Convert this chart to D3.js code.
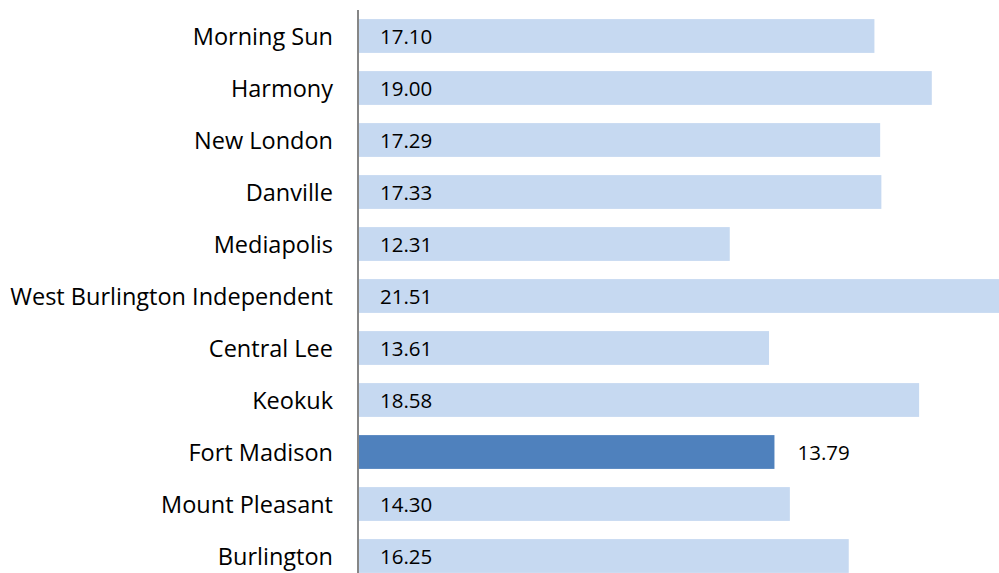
<!DOCTYPE html>
<html>
<head>
<meta charset="utf-8">
<script src="https://cdn.jsdelivr.net/npm/d3@7"></script>
<style>
  body { margin: 0; background: #fff; }
  svg { display: block; font-family: "Open Sans", sans-serif; }
</style>
</head>
<body>
<div id="wrapper"></div>
<script>
const districts = [
  "Morning Sun", "Harmony", "New London", "Danville", "Mediapolis",
  "West Burlington Independent", "Central Lee", "Keokuk", "Fort Madison",
  "Mount Pleasant", "Burlington"
];
const values = [17.10, 19.00, 17.29, 17.33, 12.31, 21.51, 13.61, 18.58, 13.79, 14.30, 16.25];
const highlighted = "Fort Madison";

const dataset = districts.map((name, i) => ({ name, value: values[i] }));

const dimensions = {
  width: 999,
  height: 573,
  margin: { top: 10, left: 358 },
};

const wrapper = d3.select("#wrapper")
  .append("svg")
  .attr("width", dimensions.width)
  .attr("height", dimensions.height);

const bounds = wrapper.append("g")
  .attr("transform", `translate(${dimensions.margin.left},${dimensions.margin.top})`);

// 30.2 px per unit, bars run past the right edge like the original
const xScale = d3.scaleLinear()
  .domain([0, 20])
  .range([0, 604]);

const yScale = d3.scaleBand()
  .domain(districts)
  .range([0, 52 * districts.length])
  .paddingInner(0.35)
  .paddingOuter(0.175);

bounds.selectAll("rect")
  .data(dataset)
  .join("rect")
  .attr("x", 0)
  .attr("y", (d) => yScale(d.name))
  .attr("width", (d) => xScale(d.value))
  .attr("height", yScale.bandwidth())
  .attr("fill", (d) => (d.name === highlighted ? "#4f81bd" : "#c6d9f1"));

bounds.selectAll(".value")
  .data(dataset)
  .join("text")
  .attr("class", "value")
  .attr("x", (d) => (d.name === highlighted ? xScale(d.value) + 23 : 22))
  .attr("y", (d) => yScale(d.name) + yScale.bandwidth() / 2 + 1)
  .attr("dy", "0.35em")
  .style("font-size", "20.5px")
  .attr("fill", "#000")
  .text((d) => d.value.toFixed(2));

const yAxis = d3.axisLeft(yScale).tickSize(0).tickPadding(25);

const axisG = bounds.append("g").call(yAxis);
axisG.select(".domain").remove();
axisG.selectAll("text")
  .attr("dy", "0.38em")
  .style("font-size", "23.5px")
  .style("font-family", "'Open Sans', sans-serif")
  .attr("fill", "#000");

bounds.append("line")
  .attr("x1", 0)
  .attr("x2", 0)
  .attr("y1", 0)
  .attr("y2", dimensions.height)
  .attr("stroke", "#868686")
  .attr("stroke-width", 2);
</script>
</body>
</html>
